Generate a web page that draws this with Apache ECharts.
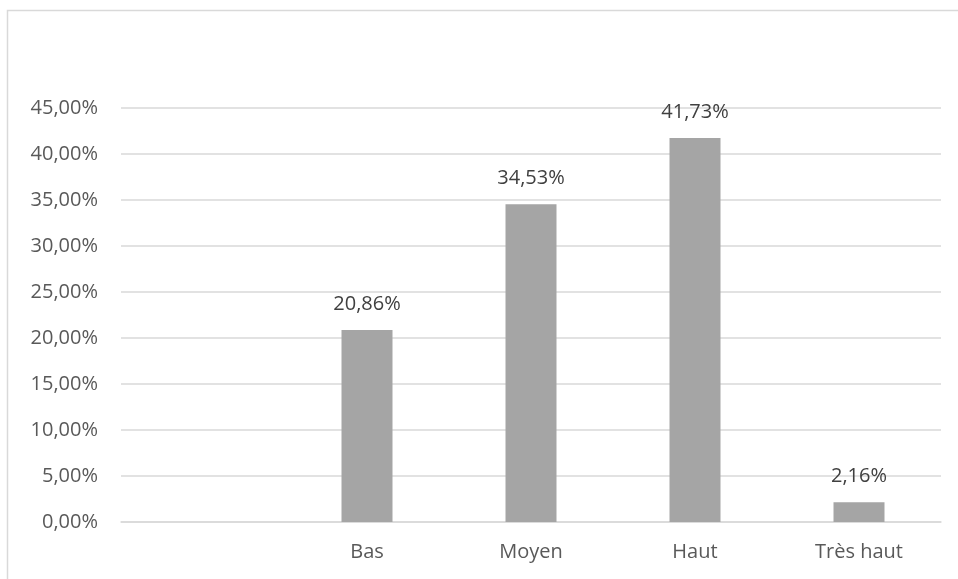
<!DOCTYPE html>
<html>
<head>
<meta charset="utf-8">
<script src="https://cdn.jsdelivr.net/npm/echarts@6/dist/echarts.min.js"></script>
<style>
html,body{margin:0;padding:0;background:#fff;}
#chart{width:958px;height:579px;}
</style>
</head>
<body>
<div id="chart"></div>
<script>
const categories = ['', 'Bas', 'Moyen', 'Haut', 'Très haut'];
const values = [null, 20.86, 34.53, 41.73, 2.16];
const yMin = 0, yMax = 45, yStep = 5;

const fmt = v => v.toFixed(2).replace('.', ',') + '%';
const chart = echarts.init(document.getElementById('chart'));
chart.setOption({
  animation: false,
  backgroundColor: '#fff',
  textStyle: { fontFamily: 'Open Sans' },
  graphic: [{
    type: 'rect', left: 5, top: 8, z: -1,
    shape: { width: 1000, height: 1000 },
    style: { fill: 'none', stroke: '#d9d9d9', lineWidth: 1.5 }
  }],
  grid: { left: 121, right: 17, top: 108, bottom: 57, containLabel: false },
  xAxis: {
    type: 'category',
    data: categories,
    axisLine: { lineStyle: { color: '#d9d9d9', width: 1.5 } },
    axisTick: { show: false },
    axisLabel: { color: '#595959', fontSize: 20, margin: 20, fontFamily: 'Open Sans' }
  },
  yAxis: {
    type: 'value', min: yMin, max: yMax, interval: yStep,
    axisLine: { show: false }, axisTick: { show: false },
    splitLine: { lineStyle: { color: '#d9d9d9', width: 1.5 } },
    axisLabel: { color: '#595959', fontSize: 20, margin: 23, fontFamily: 'Open Sans', formatter: fmt }
  },
  series: [{
    type: 'bar',
    data: values,
    barWidth: 51,
    itemStyle: { color: '#a5a5a5' },
    label: {
      show: true, position: 'top', distance: 16,
      color: '#404040', fontSize: 20, fontFamily: 'Open Sans',
      formatter: p => (p.value == null ? '' : fmt(p.value))
    }
  }]
});
</script>
</body>
</html>
